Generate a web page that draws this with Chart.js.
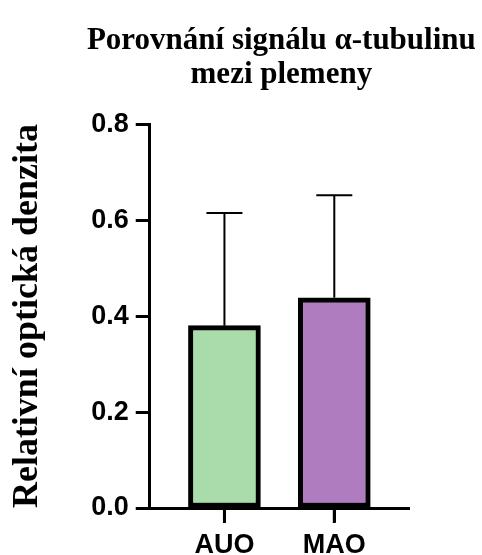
<!DOCTYPE html>
<html>
<head>
<meta charset="utf-8">
<script src="https://cdn.jsdelivr.net/npm/chart.js@4.4.1/dist/chart.umd.min.js"></script>
<style>
  html, body { margin: 0; padding: 0; background: #fff; }
  #wrap { width: 482px; height: 555px; }
</style>
</head>
<body>
<div id="wrap"><canvas id="chart"></canvas></div>
<script>
// Data
const categories = ['AUO', 'MAO'];
const meanValues = [0.38, 0.438];
const sdValues = [0.235, 0.214];
const yTicks = [0, 0.2, 0.4, 0.6, 0.8];
const barColors = ['#a9dcaa', '#ae7cbf'];

// Upper error bars (mean + SD) drawn through the y scale,
// plus the short category tick marks under the x axis
const errorBars = {
    id: 'errorBars',
    afterDatasetsDraw(chart) {
        const ctx = chart.ctx;
        const y = chart.scales.y;
        const meta = chart.getDatasetMeta(0);
        const base = y.getPixelForValue(0);
        ctx.save();
        ctx.strokeStyle = '#000';
        meta.data.forEach((bar, i) => {
            const yBase = y.getPixelForValue(meanValues[i]);
            const yTop = y.getPixelForValue(meanValues[i] + sdValues[i]);
            ctx.lineWidth = 2;
            ctx.beginPath();
            ctx.moveTo(bar.x, yBase);
            ctx.lineTo(bar.x, yTop);
            ctx.moveTo(bar.x - 18, yTop);
            ctx.lineTo(bar.x + 18, yTop);
            ctx.stroke();
            ctx.lineWidth = 3;
            ctx.beginPath();
            ctx.moveTo(bar.x, base);
            ctx.lineTo(bar.x, base + 15);
            ctx.stroke();
        });
        ctx.restore();
    }
};

// Title sits over the plot area but is wider than it, so widen its box
const wideTitle = {
    id: 'wideTitle',
    afterLayout(chart) {
        const t = chart.titleBlock;
        const mid = (chart.chartArea.left + chart.chartArea.right) / 2 + 2;
        t.left = mid - 210;
        t.right = mid + 210;
        t.width = 420;
    }
};

const ctx = document.getElementById('chart').getContext('2d');
new Chart(ctx, {
    type: 'bar',
    data: {
        datasets: [{
            data: categories.map((c, i) => ({ x: i, y: meanValues[i] })),
            backgroundColor: barColors,
            borderColor: '#000',
            borderWidth: 5,
            borderSkipped: false,
            barThickness: 72
        }]
    },
    options: {
        responsive: true,
        maintainAspectRatio: false,
        animation: false,
        layout: { padding: { left: 0, right: 73, top: 0, bottom: -14 } },
        plugins: {
            legend: { display: false },
            tooltip: { enabled: false },
            title: {
                display: true,
                fullSize: false,
                text: ['Porovnání signálu α-tubulinu', 'mezi plemeny'],
                color: '#000',
                font: { family: 'Liberation Serif', size: 31, weight: 'bold', lineHeight: 1.1 },
                padding: { top: 24, bottom: 32 }
            }
        },
        scales: {
            x: {
                type: 'linear',
                min: -0.68,
                max: 1.68,
                offset: false,
                afterBuildTicks: (scale) => {
                    scale.ticks = categories.map((c, i) => ({ value: i }));
                },
                ticks: {
                    color: '#000',
                    autoSkip: false,
                    maxRotation: 0,
                    font: { family: 'Liberation Sans', size: 27, weight: 'bold', lineHeight: 1 },
                    padding: 10,
                    callback: (v, i) => categories[i]
                },
                grid: {
                    display: true,
                    offset: false,
                    drawOnChartArea: false,
                    drawTicks: true,
                    tickLength: 14,
                    tickWidth: 3,
                    tickColor: '#000'
                },
                border: { display: true, color: '#000', width: 3 }
            },
            y: {
                min: 0,
                max: 0.8,
                afterBuildTicks: (scale) => {
                    scale.ticks = yTicks.map(v => ({ value: v }));
                },
                ticks: {
                    color: '#000',
                    font: { family: 'Liberation Sans', size: 27, weight: 'bold', lineHeight: 1.2 },
                    padding: 7,
                    callback: (v) => v.toFixed(1)
                },
                grid: {
                    display: true,
                    drawOnChartArea: false,
                    drawTicks: true,
                    tickLength: 14,
                    tickWidth: 3,
                    tickColor: '#000'
                },
                border: { display: true, color: '#000', width: 3 },
                title: {
                    display: true,
                    text: 'Relativní optická denzita',
                    color: '#000',
                    font: { family: 'Liberation Serif', size: 36, weight: 'bold', lineHeight: 1.2 },
                    padding: { top: 6, bottom: 35 }
                }
            }
        }
    },
    plugins: [errorBars, wideTitle]
});
</script>
</body>
</html>
